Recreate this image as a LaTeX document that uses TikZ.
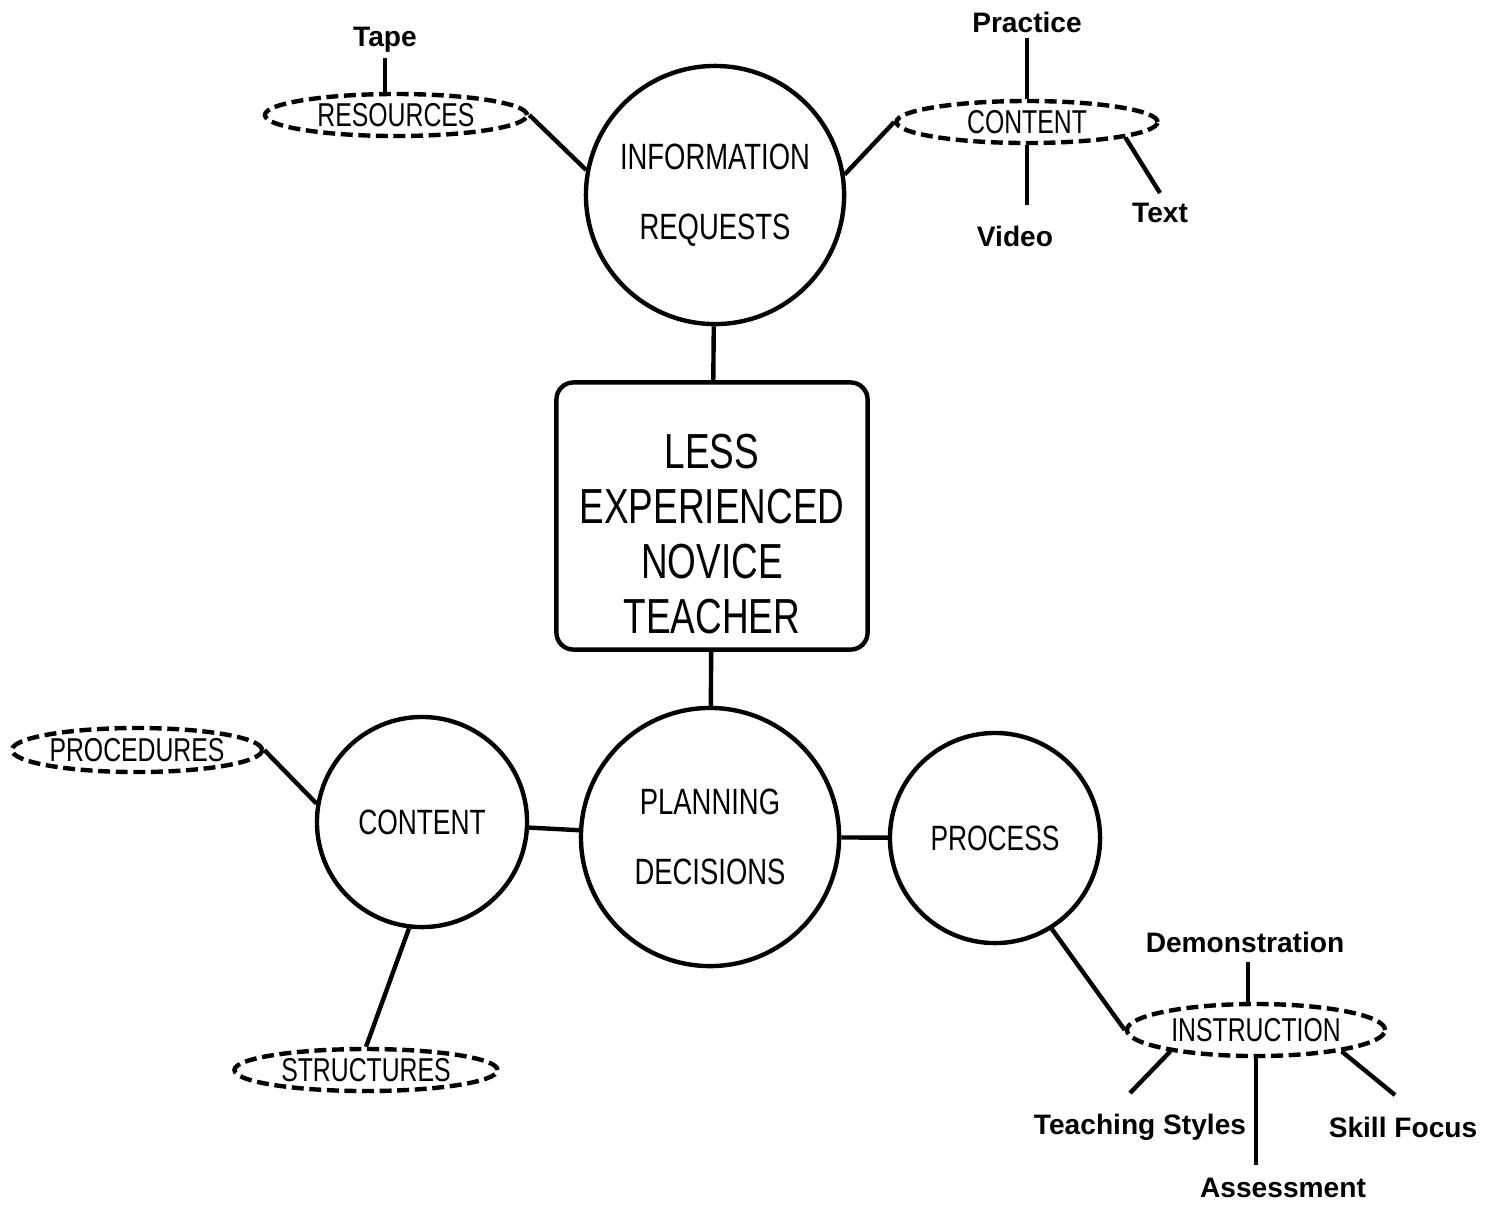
\documentclass[tikz,border=0pt]{standalone}
\usepackage{fontspec}
\setmainfont{Liberation Sans}
\newfontfamily\narrowfont[FakeStretch=0.75]{Liberation Sans}
\usetikzlibrary{shapes.geometric}

\begin{document}
\begin{tikzpicture}[x=0.01cm, y=-0.01cm, line width=1.25pt,
        topic/.style={draw, circle, minimum size=2.58cm, inner sep=0pt, align=center, font=\narrowfont\fontsize{10.4}{12}\selectfont},
        subtopic/.style={draw, circle, minimum size=2.1cm, inner sep=0pt, font=\narrowfont\fontsize{10}{12}\selectfont},
        teacher/.style={draw, rectangle, rounded corners=0.17cm, minimum width=3.11cm, minimum height=2.67cm, align=center, font=\narrowfont\fontsize{14}{15.6}\selectfont},
        group/.style={draw, ellipse, dash pattern=on 3.4pt off 1.6pt, inner sep=0pt, minimum width=2.62cm, minimum height=0.42cm, font=\narrowfont\fontsize{9.4}{11}\selectfont},
        leaf/.style={font=\bfseries\fontsize{8}{10}\selectfont, inner sep=1pt}
      ]
    \useasboundingbox (0,0) rectangle (1489,1205);

    \node[topic] (info) at (715,195) {INFORMATION\\[8pt]REQUESTS};
    \node[teacher] (nov) at (712,516) {\rule{0pt}{20pt}LESS\\EXPERIENCED\\NOVICE\\TEACHER};
    \node[topic] (plan) at (710,837) {PLANNING\\[8pt]DECISIONS};
    \node[subtopic] (cont) at (422,822) {CONTENT};
    \node[subtopic] (proc) at (995,838) {PROCESS};

    \node[group] (res) at (396,115) {RESOURCES};
    \node[group, minimum width=2.61cm] (ctop) at (1027,122) {CONTENT};
    \node[group, minimum width=2.50cm, minimum height=0.44cm] (procd) at (137,750) {PROCEDURES};
    \node[group, minimum width=2.63cm] (struc) at (366,1070) {STRUCTURES};
    \node[group, minimum width=2.58cm, minimum height=0.52cm] (instr) at (1256,1030) {INSTRUCTION};

    \node[leaf] (tape) at (385,40) {Tape};
    \node[leaf] (prac) at (1027,22) {Practice};
    \node[leaf] (vid) at (1015,236) {Video};
    \node[leaf] (txt) at (1160,213) {Text};
    \node[leaf] (demo) at (1245,942) {Demonstration};
    \node[leaf] (teach) at (1140,1127) {Teaching Styles};
    \node[leaf] (ass) at (1283,1188) {Assessment};
    \node[leaf] (skill) at (1403,1127) {Skill Focus};

    \coordinate (vidtip) at (1027,205);
    \coordinate (txttip) at (1160,193);
    \coordinate (demotip) at (1248,962);
    \coordinate (teachtip) at (1130,1093);
    \coordinate (asstip) at (1256,1165);
    \coordinate (skilltip) at (1395,1095);

    \draw (info) -- (nov);
    \draw (nov) -- (plan);
    \draw (cont) -- (plan);
    \draw (plan) -- (proc);
    \draw (res.east) -- (info.169);
    \draw (ctop.west) -- (info.9);
    \draw (procd.east) -- (cont.170);
    \draw (cont.-97) -- (struc.north);
    \draw (proc.-58) -- (instr.west);

    \draw (tape.south) -- (tape.south |- res.north);
    \draw (prac.south) -- (prac.south |- ctop.north);
    \draw (ctop.south) -- (vidtip);
    \draw (ctop.-9) -- (txttip);
    \draw (demotip) -- (demotip |- instr.north);
    \draw (instr.194) -- (teachtip);
    \draw (instr.south) -- (asstip);
    \draw (instr.-14) -- (skilltip);
\end{tikzpicture}
\end{document}
